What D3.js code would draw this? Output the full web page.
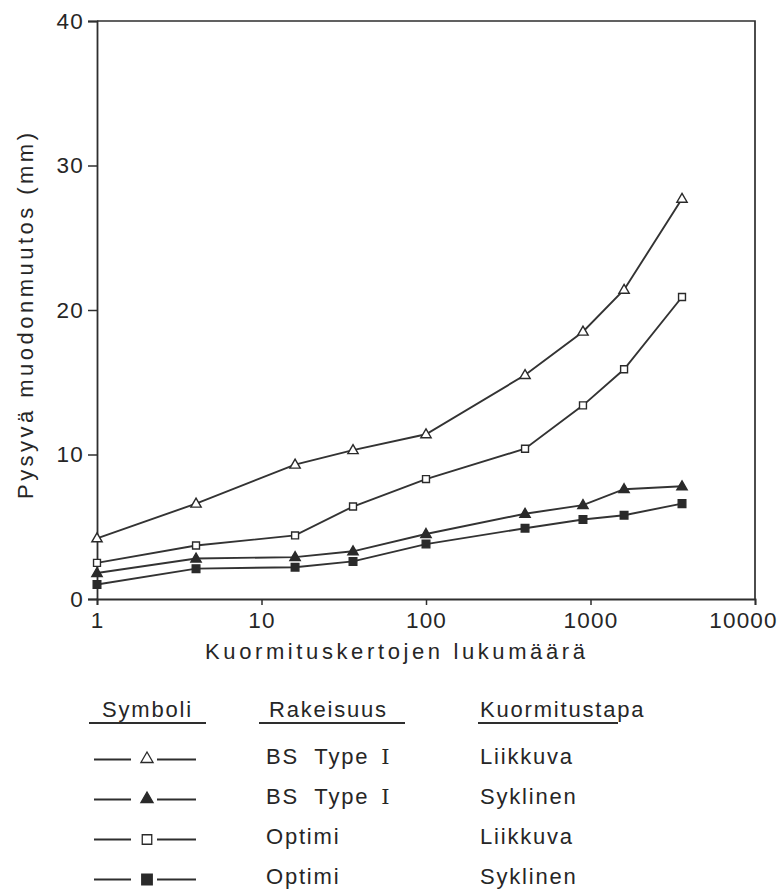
<!DOCTYPE html>
<html>
<head>
<meta charset="utf-8">
<script src="https://cdn.jsdelivr.net/npm/d3@7"></script>
<style>
  html, body { margin: 0; padding: 0; background: #fff; }
  svg { display: block; }
  text { font-family: "Liberation Sans", Arial, Helvetica, sans-serif; fill: #262626; }
</style>
</head>
<body>
<svg id="chart" width="784" height="893"></svg>
<script>
// Load repetitions (x, log scale) and permanent deformation in mm (y)
const cycles = [1, 4, 16, 36, 100, 400, 900, 1600, 3600];
const bsMoving     = [4.2, 6.6, 9.3, 10.3, 11.4, 15.5, 18.5, 21.4, 27.7]; // BS Type I, Liikkuva
const bsCyclic     = [1.8, 2.8, 2.9, 3.3, 4.5, 5.9, 6.5, 7.6, 7.8];       // BS Type I, Syklinen
const optMoving    = [2.5, 3.7, 4.4, 6.4, 8.3, 10.4, 13.4, 15.9, 20.9];   // Optimi, Liikkuva
const optCyclic    = [1.0, 2.1, 2.2, 2.6, 3.8, 4.9, 5.5, 5.8, 6.6];       // Optimi, Syklinen

const xTicks = [1, 10, 100, 1000, 10000];
const yTicks = [0, 10, 20, 30, 40];

const yTitle = "Pysyvä muodonmuutos (mm)";
const xTitle = "Kuormituskertojen lukumäärä";

const legendHeaders = ["Symboli", "Rakeisuus", "Kuormitustapa"];
const gradation = ["BS  Type ", "BS  Type ", "Optimi", "Optimi"];
const loading = ["Liikkuva", "Syklinen", "Liikkuva", "Syklinen"];

const series = [
  { values: bsMoving,  shape: "triangle", filled: false },
  { values: bsCyclic,  shape: "triangle", filled: true },
  { values: optMoving, shape: "square",   filled: false },
  { values: optCyclic, shape: "square",   filled: true }
];

const ink = "#2e2e2e";
const svg = d3.select("#chart");

const x = d3.scaleLog().domain([1, 10000]).range([97, 755]);
const y = d3.scaleLinear().domain([0, 40]).range([599, 21]);

// Frame: top and right edges
svg.append("path")
  .attr("d", `M${x(1)},${y(40)}H${x(10000)}V${y(0)}`)
  .attr("fill", "none").attr("stroke", ink).attr("stroke-width", 1.7);

// Axes
const yAxis = svg.append("g")
  .attr("transform", `translate(${x(1)},0)`)
  .call(d3.axisLeft(y).tickValues(yTicks).tickSize(9).tickPadding(4).tickFormat(d3.format("d")));
const xAxis = svg.append("g")
  .attr("transform", `translate(0,${y(0)})`)
  .call(d3.axisBottom(x).tickValues(xTicks).tickSize(6).tickPadding(7).tickFormat(d3.format("d")));

[yAxis, xAxis].forEach(g => {
  g.select(".domain").attr("stroke", ink).attr("stroke-width", 1.8);
  g.selectAll(".tick line").attr("stroke", ink).attr("stroke-width", 1.5);
  g.selectAll(".tick text")
    .style("font-family", "'Liberation Sans', Arial, sans-serif")
    .style("font-size", "22.5px").style("letter-spacing", "1.2px")
    .attr("fill", "#262626");
});
xAxis.selectAll(".tick text").filter(d => d === 10000).attr("dx", -12);

// Axis titles
svg.append("text")
  .attr("transform", `translate(33,316) rotate(-90)`)
  .attr("text-anchor", "middle")
  .attr("textLength", 366).attr("lengthAdjust", "spacing")
  .style("font-size", "22px")
  .text(yTitle);

svg.append("text")
  .attr("x", 395).attr("y", 659)
  .attr("text-anchor", "middle")
  .attr("textLength", 380).attr("lengthAdjust", "spacing")
  .style("font-size", "22px")
  .text(xTitle);

// Series lines and markers
const line = d3.line().x((d, i) => x(cycles[i])).y(d => y(d));

function symbolPath(shape, size) {
  return d3.symbol().type(shape === "triangle" ? d3.symbolTriangle : d3.symbolSquare).size(size)();
}

series.forEach(s => {
  svg.append("path")
    .datum(s.values)
    .attr("d", line)
    .attr("fill", "none").attr("stroke", "#333").attr("stroke-width", 1.9);
});
series.forEach(s => {
  const size = s.shape === "triangle" ? 46 : (s.filled ? 58 : 48);
  svg.append("g").selectAll("path")
    .data(s.values)
    .join("path")
    .attr("transform", (d, i) => `translate(${x(cycles[i])},${y(d) + (s.shape === "triangle" ? 0.5 : 0)})`)
    .attr("d", symbolPath(s.shape, size))
    .attr("fill", s.filled ? "#2a2a2a" : "#fff")
    .attr("stroke", "#2a2a2a").attr("stroke-width", 1.4);
});

// Legend table
const legend = svg.append("g");
const headerX = [102, 269, 480];
const underline = [[89, 206], [259, 405], [478, 618]];
legendHeaders.forEach((h, i) => {
  legend.append("text")
    .attr("x", headerX[i]).attr("y", 717)
    .style("font-size", "22px").style("letter-spacing", "1.8px")
    .text(h);
  legend.append("line")
    .attr("x1", underline[i][0]).attr("x2", underline[i][1])
    .attr("y1", 723).attr("y2", 723)
    .attr("stroke", ink).attr("stroke-width", 2.2);
});

const rowBase = [764, 804, 844, 884];
series.forEach((s, i) => {
  const cy = rowBase[i] - 4.5;
  legend.append("line").attr("x1", 94).attr("x2", 131).attr("y1", cy).attr("y2", cy)
    .attr("stroke", ink).attr("stroke-width", 1.8);
  legend.append("line").attr("x1", 157).attr("x2", 196).attr("y1", cy).attr("y2", cy)
    .attr("stroke", ink).attr("stroke-width", 1.8);
  legend.append("path")
    .attr("transform", `translate(147,${cy + (s.shape === "triangle" ? -0.5 : 0)})`)
    .attr("d", symbolPath(s.shape, s.shape === "triangle" ? 64 : (s.filled ? 110 : 90)))
    .attr("fill", s.filled ? "#2a2a2a" : "#fff")
    .attr("stroke", "#2a2a2a").attr("stroke-width", 1.3);

  const t = legend.append("text")
    .attr("x", 266).attr("y", rowBase[i])
    .style("font-size", "22px").style("letter-spacing", "1.8px")
    .attr("xml:space", "preserve")
    .style("white-space", "pre")
    .text(gradation[i]);
  if (gradation[i].startsWith("BS")) {
    t.append("tspan")
      .style("font-family", "'DejaVu Serif', 'Liberation Serif', serif")
      .style("font-size", "21px")
      .attr("dx", 4)
      .text("I");
  }
  legend.append("text")
    .attr("x", 480).attr("y", rowBase[i])
    .style("font-size", "22px").style("letter-spacing", "1.8px")
    .text(loading[i]);
});
</script>
</body>
</html>
